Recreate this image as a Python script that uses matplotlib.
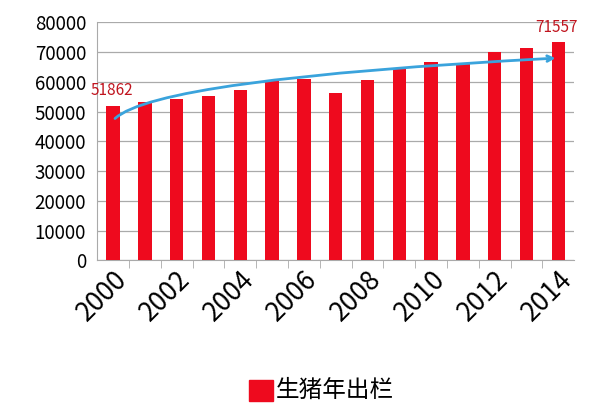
import numpy as np
import matplotlib.pyplot as plt

plt.rcParams['font.family'] = ['Noto Sans CJK SC', 'DejaVu Sans']

years = list(range(2000, 2015))
values = [51862, 53200, 54100, 55300, 57200, 60400, 61000, 56400, 60700, 64600, 66600, 66100, 70100, 71500, 73500]
labels = {0: '51862', 14: '71557'}
trend_start = (2000, 47000)
trend_end = (2014, 68000)

fig = plt.figure(figsize=(6, 4.2), dpi=100)
ax = fig.add_axes([0.162, 0.38, 0.795, 0.567])

x = np.arange(len(years))
ax.bar(x, values, width=0.42, color='#ee0a1e', zorder=3)
ax.set_xlim(-0.5, len(years) - 0.5)
ax.set_ylim(0, 80000)
ax.set_yticks(range(0, 80001, 10000))
ax.tick_params(axis='y', length=0, labelsize=13.5, pad=8)
ax.grid(axis='y', color='#aaaaaa', lw=0.9, zorder=0)
ax.set_xticks(x[::2])
ax.set_xticklabels([str(y) for y in years[::2]], rotation=45, fontsize=19,
                   ha='right', rotation_mode='anchor')
ax.set_xticks(x[:-1] + 0.5, minor=True)
ax.tick_params(axis='x', which='major', length=0, pad=4)
ax.tick_params(axis='x', which='minor', length=6, color='#aaaaaa')
for s in ['top', 'right']:
    ax.spines[s].set_visible(False)
for s in ['left', 'bottom']:
    ax.spines[s].set_color('#aaaaaa')

for i, t in labels.items():
    ax.text(x[i] - 0.05, values[i] + 2500 if i == 0 else 75500, t, color='#c0141e',
            fontsize=11, ha='center', va='bottom')

ax.annotate('', xy=(trend_end[0] - 2000, trend_end[1]),
            xytext=(trend_start[0] - 2000, trend_start[1]),
            arrowprops=dict(arrowstyle='->', color='#3aa3dc', lw=2,
                            connectionstyle='angle3,angleA=50,angleB=3'), zorder=4)

fig.patches.append(plt.Rectangle((0.415, 0.045), 0.04, 0.05, transform=fig.transFigure,
                                 color='#ee0a1e'))
fig.text(0.46, 0.07, '生猪年出栏', fontsize=17, va='center')

fig.savefig('out.png', dpi=100)
